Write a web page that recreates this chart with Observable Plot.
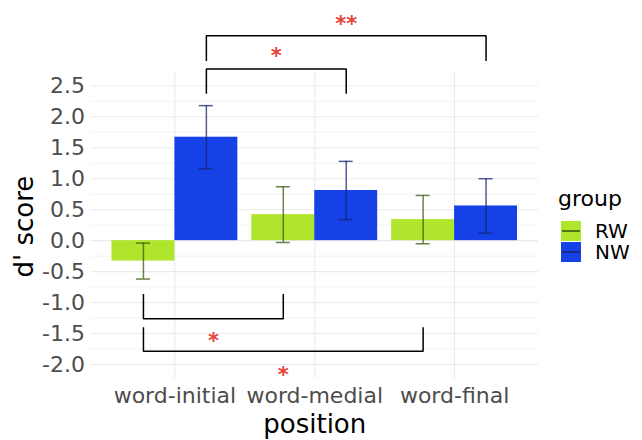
<!DOCTYPE html>
<html>
<head>
<meta charset="utf-8">
<script src="https://cdn.jsdelivr.net/npm/d3@7"></script>
<script src="https://cdn.jsdelivr.net/npm/@observablehq/plot@0.6"></script>
<style>
  body { margin: 0; background: #fff; font-family: "DejaVu Sans", sans-serif; }
  #wrap { position: relative; width: 642px; height: 440px; }
  #legend { position: absolute; left: 558px; top: 186px; color: #000; }
  #legend .title { font-size: 22px; line-height: 26px; margin-bottom: 9px; }
  #legend .row { display: flex; align-items: center; height: 20.5px; }
  #legend .key { width: 20px; height: 20px; position: relative; margin-left: 3px; }
  #legend .key::after { content: ""; position: absolute; left: 1px; right: 1px; top: 9px; height: 2px; background: var(--line); }
  #legend .lab { font-size: 20px; margin-left: 14px; line-height: 20px; }
</style>
</head>
<body>
<div id="wrap"><div id="chart"></div><div id="legend"></div></div>
<script>
// ---- data ----
const categories = ["word-initial", "word-medial", "word-final"];
const groups = ["RW", "NW"];
const rwMean = [-0.33, 0.42, 0.34];
const rwErr  = [0.29, 0.45, 0.39];
const nwMean = [1.67, 0.81, 0.56];
const nwErr  = [0.51, 0.47, 0.44];
const yTicks = [-2.0, -1.5, -1.0, -0.5, 0.0, 0.5, 1.0, 1.5, 2.0, 2.5];
const yMinor = [-1.75, -1.25, -0.75, -0.25, 0.25, 0.75, 1.25, 1.75, 2.25];

// significance brackets
const bracketFrom   = ["word-initial", "word-initial", "word-initial", "word-initial"];
const bracketTo     = ["word-medial", "word-final", "word-medial", "word-final"];
const bracketGroup  = ["NW", "NW", "RW", "RW"];
const bracketBarY   = [2.77, 3.31, -1.26, -1.785];
const bracketLegY   = [2.37, 2.90, -0.86, -1.40];
const bracketLabel  = ["*", "**", "*", "*"];
const bracketLabelY = [3.05, 3.575, -1.55, -2.085];

const fillColors = ["#b0e52d", "#1541e6"];
const lineColors = ["#3a5a10", "#16256e"];

// ---- derived tables ----
const dodge = {RW: -0.225, NW: 0.225};
const pos = (cat, grp) => categories.indexOf(cat) + 1 + dodge[grp];

const bars = [];
categories.forEach((c, i) => {
  bars.push({cat: c, group: "RW", mean: rwMean[i], err: rwErr[i]});
  bars.push({cat: c, group: "NW", mean: nwMean[i], err: nwErr[i]});
});

const brackets = bracketFrom.map((f, i) => ({
  id: i, from: f, to: bracketTo[i], group: bracketGroup[i],
  bar: bracketBarY[i], leg: bracketLegY[i], label: bracketLabel[i], labelY: bracketLabelY[i]
}));
const bracketPts = brackets.flatMap(b => [
  {id: b.id, x: pos(b.from, b.group), y: b.leg},
  {id: b.id, x: pos(b.from, b.group), y: b.bar},
  {id: b.id, x: pos(b.to, b.group), y: b.bar},
  {id: b.id, x: pos(b.to, b.group), y: b.leg}
]);

const chart = Plot.plot({
  width: 642,
  height: 440,
  marginLeft: 90.5,
  marginRight: 104,
  marginTop: 72,
  marginBottom: 62,
  style: {fontFamily: "DejaVu Sans", background: "#fff", overflow: "visible"},
  x: {domain: [0.4, 3.6], axis: null},
  y: {domain: [-2.226, 2.715], axis: null},
  color: {domain: groups, range: fillColors},
  marks: [
    Plot.ruleY(yMinor, {stroke: "#ebebeb", strokeWidth: 0.6}),
    Plot.ruleY(yTicks, {stroke: "#ebebeb", strokeWidth: 1.1}),
    Plot.ruleX([1, 2, 3], {stroke: "#ebebeb", strokeWidth: 1.1}),
    Plot.rectY(bars, {
      x1: d => pos(d.cat, d.group) - 0.225,
      x2: d => pos(d.cat, d.group) + 0.225,
      y: "mean", fill: "group"
    }),
    Plot.ruleX(bars, {
      x: d => pos(d.cat, d.group),
      y1: d => d.mean - d.err, y2: d => d.mean + d.err,
      stroke: d => lineColors[groups.indexOf(d.group)], strokeOpacity: 0.75, strokeWidth: 1.5
    }),
    Plot.ruleY(bars, {
      x1: d => pos(d.cat, d.group) - 0.05, x2: d => pos(d.cat, d.group) + 0.05,
      y: d => d.mean - d.err,
      stroke: d => lineColors[groups.indexOf(d.group)], strokeOpacity: 0.75, strokeWidth: 1.5
    }),
    Plot.ruleY(bars, {
      x1: d => pos(d.cat, d.group) - 0.05, x2: d => pos(d.cat, d.group) + 0.05,
      y: d => d.mean + d.err,
      stroke: d => lineColors[groups.indexOf(d.group)], strokeOpacity: 0.75, strokeWidth: 1.5
    }),
    Plot.line(bracketPts, {x: "x", y: "y", z: "id", stroke: "#000", strokeWidth: 1.5, strokeLinejoin: "miter", strokeLinecap: "butt"}),
    Plot.text(brackets, {
      x: b => (pos(b.from, b.group) + pos(b.to, b.group)) / 2,
      y: "labelY", text: "label",
      fill: "#e8433a", fontSize: 21, fontWeight: "bold", dy: 5
    }),
    Plot.axisY({ticks: yTicks, tickFormat: d => d.toFixed(1), tickSize: 0, tickPadding: 6, fontSize: 22, color: "#4d4d4d", label: null}),
    Plot.axisX({ticks: [1, 2, 3], tickFormat: d => categories[d - 1], tickSize: 0, tickPadding: 9, fontSize: 22, color: "#4d4d4d", label: null}),
    Plot.text(["d' score"], {frameAnchor: "left", dx: -66, dy: 52, rotate: -90, fontSize: 26, fill: "#000"}),
    Plot.text(["position"], {frameAnchor: "bottom", dy: 54, fontSize: 26, fill: "#000"})
  ]
});
document.getElementById("chart").appendChild(chart);

// legend
const legend = document.getElementById("legend");
legend.innerHTML = `<div class="title">group</div>` + groups.map((g, i) =>
  `<div class="row"><div class="key" style="background:${fillColors[i]};--line:${lineColors[i]}cc"></div><span class="lab">${g}</span></div>`
).join("");
</script>
</body>
</html>
